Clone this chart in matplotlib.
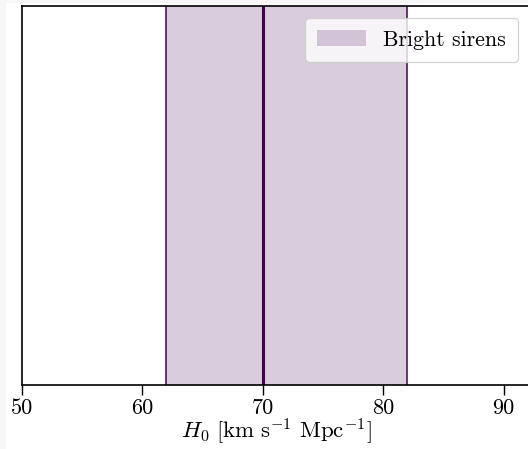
import matplotlib
matplotlib.use('Agg')
import matplotlib.pyplot as plt
from matplotlib.patches import Rectangle

plt.rcParams['font.family'] = 'serif'
plt.rcParams['font.serif'] = ['cmr10']
plt.rcParams['mathtext.fontset'] = 'cm'
plt.rcParams['axes.unicode_minus'] = False
plt.rcParams['font.size'] = 16

# band for bright sirens
h0_true = 70
band_lo, band_hi = 62, 82
x_range = (50, 92.2)
xticks = [50, 60, 70, 80, 90]
color = '#440154'

fig = plt.figure(figsize=(5.28, 4.49), dpi=100, facecolor='#f7f7f7')
# white canvas with thin grey border like the screenshot
fig.patches.append(Rectangle((6 / 528, 0), 1, 446 / 449, transform=fig.transFigure,
                             facecolor='white', edgecolor='none', zorder=-5))

ax = fig.add_axes([22 / 528, 64 / 449, 508 / 528, 379 / 449])
ax.set_zorder(2)
ax.axvspan(band_lo, band_hi, color=color, alpha=0.2, lw=0, label='Bright sirens')
ax.axvline(band_lo, color=color, lw=1.1)
ax.axvline(band_hi, color=color, lw=1.1)
ax.axvline(h0_true, color=color, lw=2.2)

ax.set_xlim(*x_range)
ax.set_xticks(xticks)
ax.set_yticks([])
ax.tick_params(axis='x', length=7, width=1.0, pad=3, labelsize=16)
for s in ax.spines.values():
    s.set_linewidth(1.2)
ax.spines['right'].set_visible(False)
ax.set_xlabel(r'$H_0\ [\mathrm{km\ s^{-1}\ Mpc^{-1}}]$', fontsize=16.5, labelpad=-1)

ax.legend(loc='upper right', bbox_to_anchor=(518 / 528, 1 - 18 / 449),
          bbox_transform=fig.transFigure, borderaxespad=0, fontsize=15.8,
          handlelength=2.2, handletextpad=0.8, borderpad=0.55, fancybox=True)

fig.savefig('out.png', dpi=100, facecolor=fig.get_facecolor())
